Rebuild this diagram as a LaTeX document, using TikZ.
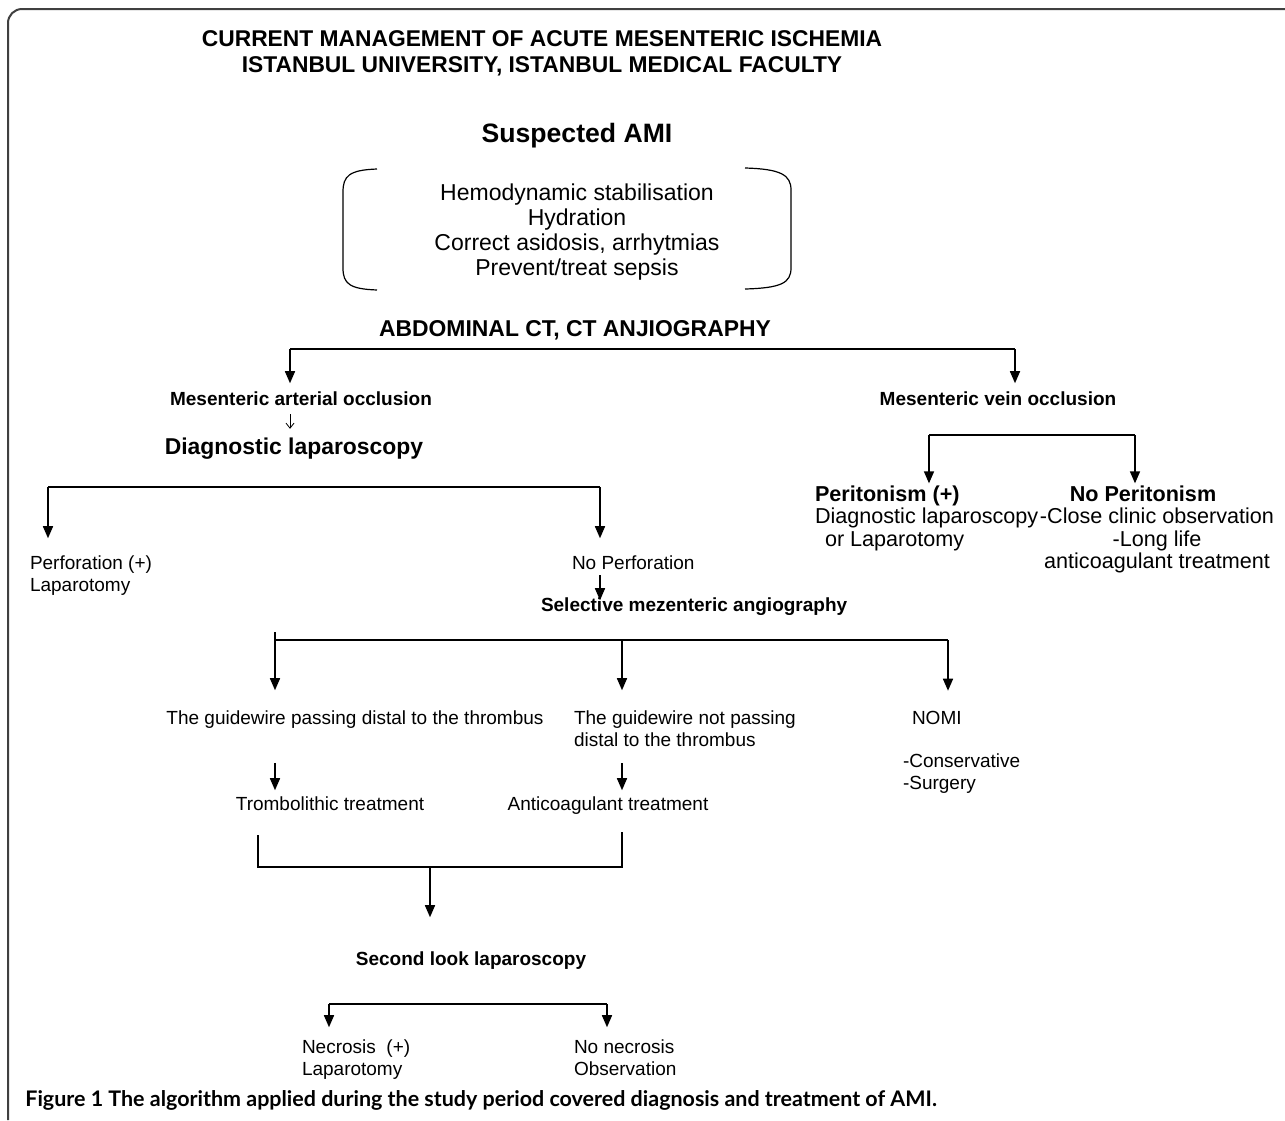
\documentclass[tikz,border=0pt]{standalone}
\usepackage{fontspec}
\setmainfont{Liberation Sans}
\newfontfamily\capfont{Lato}
\usetikzlibrary{arrows.meta}
\newcommand{\fsz}[2]{\fontsize{#1}{#2}\selectfont}

\begin{document}
\begin{tikzpicture}[x=0.5pt,y=-0.5pt,
    txt/.style={inner sep=0pt, outer sep=0pt, font=\fsz{9.5}{11}},
    bld/.style={txt, font=\bfseries\fsz{9.5}{11}},
    rgt/.style={txt, font=\fsz{10.8}{11.25}},
    arr/.style={line width=0.75pt, -{Triangle[length=6pt,width=5pt]}},
    bar/.style={line width=0.75pt},
    frame/.style={line width=1pt, black!75, rounded corners=7pt}]
  \useasboundingbox (0,0) rectangle (1285,1120);
  \draw[frame] (8,1120) -- (8,9) -- (1285,9);

  % header (multi-line nodes sit on the base of their last line)
  \node[txt, font=\bfseries\fsz{11.4}{13}, align=center, anchor=base] (title) at (542,72)
    {CURRENT MANAGEMENT OF ACUTE MESENTERIC ISCHEMIA\\ISTANBUL UNIVERSITY, ISTANBUL MEDICAL FACULTY};
  \node[txt, font=\bfseries\fsz{13.3}{15}, anchor=base] (ami) at (577,142) {Suspected AMI};
  \node[txt, font=\fsz{11.5}{12.5}, align=center, anchor=base] (care) at (577,275)
    {Hemodynamic stabilisation\\Hydration\\Correct asidosis, arrhytmias\\Prevent/treat sepsis};
  \draw[line width=0.6pt] (377,169) .. controls (349,170) and (343,176) .. (343,192) -- (343,268)
    .. controls (343,284) and (350,289) .. (377,290);
  \draw[line width=0.6pt] (745,168) .. controls (781,169) and (791,175) .. (791,190) -- (791,268)
    .. controls (791,283) and (781,288) .. (745,289);
  \node[txt, font=\bfseries\fsz{11.45}{13}, anchor=base] (ct) at (575,336) {ABDOMINAL CT, CT ANJIOGRAPHY};

  % arterial / venous
  \node[bld, anchor=base] (art) at (301,405) {Mesenteric arterial occlusion};
  \node[bld, anchor=base] (vein) at (998,405) {Mesenteric vein occlusion};
  \node[txt, font=\bfseries\fsz{11.45}{13}, anchor=base] (diag) at (294,454) {Diagnostic laparoscopy};
  \node[txt, align=left, anchor=base west] (perf) at (30,591) {Perforation (+)\\Laparotomy};
  \node[txt, anchor=base west] (noperf) at (572,569) {No Perforation};
  \node[bld, anchor=base west] (sel) at (541,611) {Selective mezenteric angiography};
  \node[rgt, align=left, anchor=base west] (perit) at (815,546)
    {\textbf{Peritonism (+)}\\Diagnostic laparoscopy\\\hspace*{5pt}or Laparotomy};
  \node[rgt, align=center, anchor=base] (noperit) at (1157,568.5)
    {\textbf{No Peritonism}\hspace*{14pt}\\-Close clinic observation\\-Long life\hspace*{21pt}\\anticoagulant treatment};

  % angiography results
  \node[txt, anchor=base] (guide1) at (355,724) {The guidewire passing distal to the thrombus};
  \node[txt, align=left, anchor=base west] (guide2) at (574,746) {The guidewire not passing\\distal to the thrombus};
  \node[txt, anchor=base west] (nomi) at (912,724) {NOMI};
  \node[txt, align=left, anchor=base west] (cons) at (903,789) {-Conservative\\-Surgery};
  \node[txt, anchor=base] (tromb) at (330,810) {Trombolithic treatment};
  \node[txt, anchor=base] (antic) at (608,810) {Anticoagulant treatment};
  \node[bld, anchor=base] (second) at (471,965) {Second look laparoscopy};
  \node[txt, align=left, anchor=base west] (necr) at (302,1075) {Necrosis~~(+)\\Laparotomy};
  \node[txt, align=left, anchor=base west] (nonecr) at (574,1075) {No necrosis\\Observation};

  \node[inner sep=0pt, font=\capfont\bfseries\fsz{10.73}{12}, anchor=base west] (caption) at (25,1106)
    {Figure 1 The algorithm applied during the study period covered diagnosis and treatment of AMI.};

  % connectors
  \coordinate (ctL) at (290,349);  \coordinate (ctR) at (1015,349);
  \draw[bar] (ctL) -- (ctR);
  \draw[arr, shorten >=4pt] (ctL) -- (ctL |- art.north);
  \draw[arr, shorten >=4pt] (ctR) -- (ctR |- vein.north);
  \draw[line width=0.4pt, -{Straight Barb[length=2.5pt,width=4pt]}, shorten <=4.5pt, shorten >=4.3pt]
    (art.south -| ctL) -- (diag.north -| ctL);

  \coordinate (dgL) at (48,487);  \coordinate (dgR) at (600,487);
  \draw[bar] (dgL) -- (dgR);
  \draw[arr, shorten >=8.5pt] (dgL) -- (dgL |- perf.north);
  \draw[arr, shorten >=8.5pt] (dgR) -- (dgR |- noperf.north);
  \draw[arr, shorten <=3pt, shorten >=-1.5pt] (noperf.south -| dgR) -- (sel.north -| dgR);

  \coordinate (vnL) at (929,435);  \coordinate (vnR) at (1135,435);
  \draw[bar] (vnL) -- (vnR);
  \draw[arr, shorten >=1pt] (vnL) -- (vnL |- perit.north);
  \draw[arr, shorten >=1pt] (vnR) -- (vnR |- noperit.north);

  \coordinate (sgL) at (275,640);  \coordinate (sgM) at (622,640);  \coordinate (sgR) at (948,640);
  \draw[bar] ([yshift=4pt]sgL) -- (sgL) -- (sgR);
  \draw[arr, shorten >=10pt] (sgL) -- (sgL |- guide1.north);
  \draw[arr, shorten >=10pt] (sgM) -- (sgM |- guide2.north);
  \draw[arr, shorten >=10pt] (sgR) -- (sgR |- nomi.north);
  \draw[arr, shorten <=17.5pt, shorten >=3pt] (guide1.south -| sgL) -- (tromb.north -| sgL);
  \draw[arr, shorten <=8.5pt, shorten >=3pt] (guide2.south -| sgM) -- (antic.north -| sgM);

  \coordinate (jL) at (258,835);  \coordinate (jR) at (622,832);  \coordinate (jB) at (430,867);
  \draw[bar] (jL) |- (jB) -| (jR);
  \draw[arr, shorten >=17pt] (jB) -- (jB |- second.north);

  \coordinate (slL) at (329,1004);  \coordinate (slR) at (607,1004);
  \draw[bar] (slL) -- (slR);
  \draw[arr, shorten >=6pt] (slL) -- (slL |- necr.north);
  \draw[arr, shorten >=6pt] (slR) -- (slR |- nonecr.north);
\end{tikzpicture}
\end{document}
